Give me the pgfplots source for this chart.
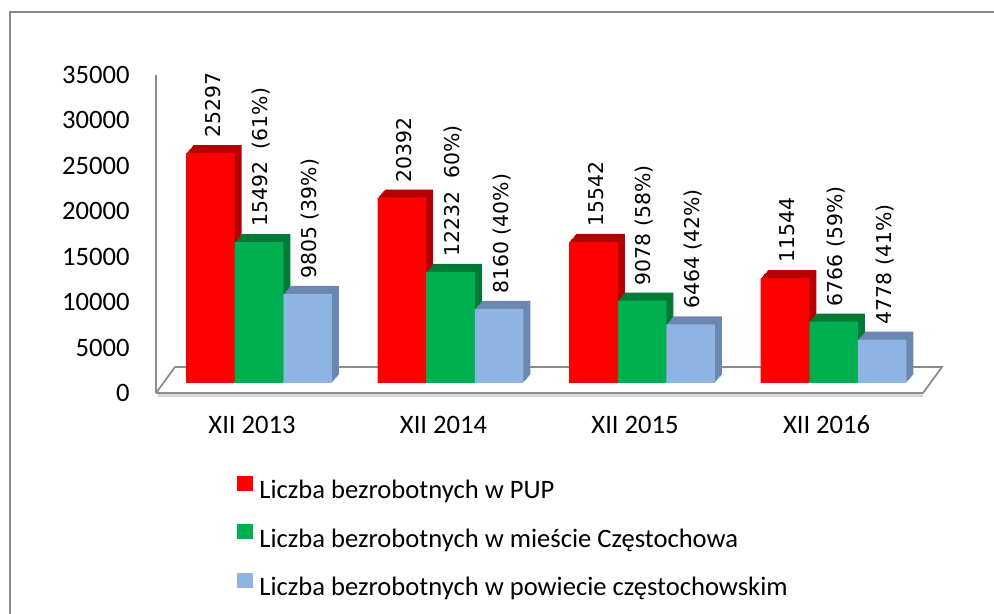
\documentclass[border=0pt]{standalone}
\usepackage{pgfplots}
\pgfplotsset{compat=1.18}
\usepackage{pgfplotstable}
\usepackage{fontspec}
\setmainfont{Carlito}
\newfontfamily\dvfont{DejaVu Sans}
\definecolor{cRed}{HTML}{FF0000}
\definecolor{cRedD}{HTML}{B40000}
\definecolor{cGreen}{HTML}{00B050}
\definecolor{cGreenD}{HTML}{007A37}
\definecolor{cBlue}{HTML}{8EB4E3}
\definecolor{cBlueD}{HTML}{6A88B0}
\definecolor{frameGray}{HTML}{888888}
\definecolor{floorGray}{HTML}{8C8C8C}
\definecolor{shadowGray}{HTML}{D9D9D9}

\pgfplotstableread{
x pup city county
0 25297 15492 9805
1 20392 12232 8160
2 15542 9078 6464
3 11544 6766 4778
}\unemp

\begin{document}
\begin{tikzpicture}[x=1pt,y=1pt]
\useasboundingbox (0,0) rectangle (497,307);
\draw[color=frameGray, line width=1.2pt] (5,0) -- (5,301) -- (497,301);
\begin{axis}[
  at={(78pt,110.5pt)}, anchor=south west,
  scale only axis, width=383.5pt, height=159pt,
  xmin=-0.538, xmax=3.467, ymin=0, ymax=35000,
  clip=false,
  axis lines*=left,
  x axis line style={draw=none},
  y axis line style={draw=floorGray, line width=1pt},
  major tick length=0pt,
  xtick={0,1,2,3}, xticklabels={XII 2013,XII 2014,XII 2015,XII 2016},
  ytick={0,5000,...,35000},
  scaled y ticks=false,
  /pgf/number format/1000 sep={},
  /pgf/number format/assume math mode=true,
  tick label style={font=\fontsize{13.3}{16}\selectfont, inner sep=0pt},
  yticklabel style={xshift=-13pt},
  xticklabel style={anchor=base, yshift=-20.25pt, xshift=-3.5pt},
  legend image code/.code={\fill[#1] (0pt,0pt) rectangle (8pt,7.5pt);},
  legend cell align=left,
  legend style={draw=none, fill=none, inner sep=0pt,
    at={(axis description cs:0.1056,-0.259)}, anchor=north west,
    font=\fontsize{13.3}{16}\selectfont,
    row sep=11.5pt, column sep=3pt, nodes={inner sep=0pt}},
  bars/.style={ybar, bar width=24.3pt, draw=none, forget plot},
  lbls/.style={point meta=explicit symbolic,
    nodes near coords,
    nodes near coords style={xshift=#1, yshift=7.5pt, rotate=90,
      anchor=west, inner sep=0pt, font=\dvfont\fontsize{10.2pt}{12pt}\selectfont}},
]
% floor
\draw[floorGray, line width=0.9pt] (rel axis cs:0,0) -- ++(9.5pt,13pt)
   -- ([xshift=9.5pt,yshift=13pt]rel axis cs:1,0) -- (rel axis cs:1,0);
\draw[shadowGray, line width=1.3pt] ([yshift=-1.2pt]rel axis cs:0.003,0) -- ([yshift=-1.2pt]rel axis cs:1,0);
\draw[floorGray, line width=0.9pt] (rel axis cs:0,0) -- (rel axis cs:1,0);

% red series
\pgfplotsinvokeforeach{6,5,4,3,2,1}{
  \addplot[bars, fill=cRedD, bar shift=-24.3pt, xshift=#1*0.5833pt, yshift=5pt+#1*0.6667pt] table[x=x,y=pup]{\unemp};
}
\addplot[bars, fill=cRed, bar shift=-24.3pt, yshift=5pt, lbls=-23.05pt] coordinates
  {(0,25297)[25297] (1,20392)[20392] (2,15542)[15542] (3,11544)[11544]};

% green series
\pgfplotsinvokeforeach{6,5,4,3,2,1}{
  \addplot[bars, fill=cGreenD, bar shift=0pt, xshift=#1*0.5833pt, yshift=5pt+#1*0.6667pt] table[x=x,y=city]{\unemp};
}
\addplot[bars, fill=cGreen, bar shift=0pt, yshift=5pt, lbls=1.25pt] coordinates
  {(0,15492)[15492\ \ (61\%)] (1,12232)[12232\ \ 60\%)] (2,9078)[9078 (58\%)] (3,6766)[6766 (59\%)]};

% blue series
\pgfplotsinvokeforeach{6,5,4,3,2,1}{
  \addplot[bars, fill=cBlueD, bar shift=24.3pt, xshift=#1*0.5833pt, yshift=5pt+#1*0.6667pt] table[x=x,y=county]{\unemp};
}
\addplot[bars, fill=cBlue, bar shift=24.3pt, yshift=5pt, lbls=25.55pt] coordinates
  {(0,9805)[9805 (39\%)] (1,8160)[8160 (40\%)] (2,6464)[6464 (42\%)] (3,4778)[4778 (41\%)]};

\addlegendimage{fill=cRed, draw=none}
\addlegendentry{Liczba bezrobotnych w PUP}
\addlegendimage{fill=cGreen, draw=none}
\addlegendentry{Liczba bezrobotnych w mieście Częstochowa}
\addlegendimage{fill=cBlue, draw=none}
\addlegendentry{Liczba bezrobotnych w powiecie częstochowskim}
\end{axis}
\end{tikzpicture}
\end{document}
